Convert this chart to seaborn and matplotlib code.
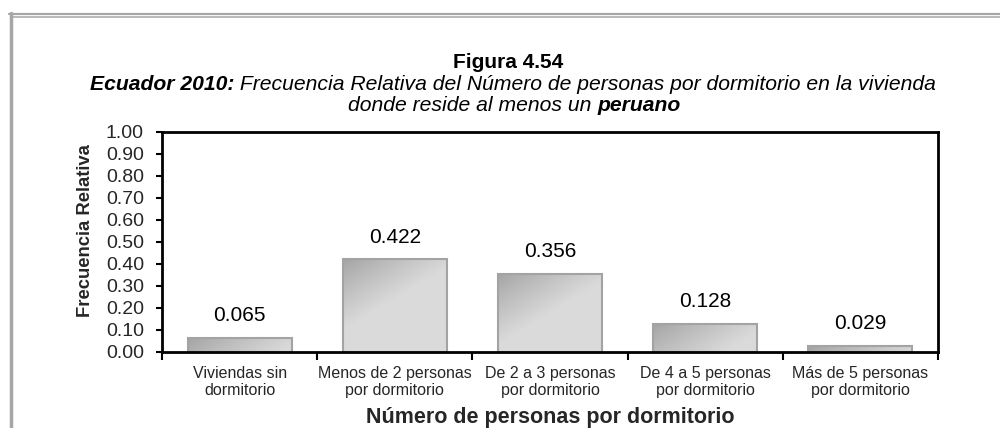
import numpy as np
import matplotlib
matplotlib.use("Agg")
import matplotlib.pyplot as plt
import seaborn as sns
import pandas as pd
from matplotlib.lines import Line2D
from matplotlib.ticker import FormatStrFormatter

categories = [
    "Viviendas sin\ndormitorio",
    "Menos de 2 personas\npor dormitorio",
    "De 2 a 3 personas\npor dormitorio",
    "De 4 a 5 personas\npor dormitorio",
    "Más de 5 personas\npor dormitorio",
]
values = [0.065, 0.422, 0.356, 0.128, 0.029]
y_ticks = [0.0, 0.1, 0.2, 0.3, 0.4, 0.5, 0.6, 0.7, 0.8, 0.9, 1.0]

sns.set_theme(style="white")
plt.rcParams["font.family"] = ["Liberation Sans", "DejaVu Sans"]

W, H = 1000, 428
fig = plt.figure(figsize=(W / 100, H / 100), dpi=100)
fig.patch.set_facecolor("white")
ax = fig.add_axes([162 / W, 1 - 352 / H, (938 - 162) / W, (352 - 132) / H])

df = pd.DataFrame({"categoria": categories, "frecuencia": values})
sns.barplot(data=df, x="categoria", y="frecuencia", ax=ax, color="#d9d9d9",
            width=0.67, edgecolor="#a3a3a3", linewidth=1.5, saturation=1)

ax.set_xlim(-0.5, len(categories) - 0.5)
ax.set_ylim(0, 1.0)
ax.set_yticks(y_ticks)
ax.yaxis.set_major_formatter(FormatStrFormatter("%.2f"))
ax.tick_params(axis="y", which="major", left=True, length=4, width=1.5,
               color="black", labelsize=14, pad=9)
ax.tick_params(axis="x", which="major", bottom=False, length=0,
               labelsize=11.5, pad=10)
ax.set_xticks(np.arange(-0.5, len(categories)), minor=True)
ax.tick_params(axis="x", which="minor", bottom=True, length=6, width=1.5,
               color="black")
for lbl in ax.get_xticklabels():
    lbl.set_linespacing(1.2)

for side in ["left", "right", "top", "bottom"]:
    ax.spines[side].set_visible(True)
    ax.spines[side].set_color("black")
    ax.spines[side].set_linewidth(2)

ax.set_ylabel("Frecuencia Relativa", fontsize=13.3, fontweight="bold")
ax.yaxis.set_label_coords(-0.0876, 0.55)
ax.set_xlabel("Número de personas por dormitorio", fontsize=15.5,
              fontweight="bold")
ax.xaxis.set_label_coords(0.5, -(423 - 352) / 220)
ax.xaxis.label.set_va("baseline")

# Gradient fill inside each bar: darker toward the upper-left corner
fig.canvas.draw()
dark = np.array([0.64, 0.64, 0.64])
light = np.array([0.855, 0.855, 0.855])
for patch in ax.patches:
    x0, y0 = patch.get_x(), patch.get_y()
    w, h = patch.get_width(), patch.get_height()
    p0 = ax.transData.transform((x0, y0))
    p1 = ax.transData.transform((x0 + w, y0 + h))
    pw = max(int(round(p1[0] - p0[0])), 2)
    ph = max(int(round(p1[1] - p0[1])), 2)
    xx, yy = np.meshgrid(np.arange(pw), np.arange(ph))
    t = np.clip((xx * 0.6 + yy) / 70.0, 0, 1) ** 0.9
    img = dark[None, None, :] + (light - dark)[None, None, :] * t[..., None]
    im = ax.imshow(img, extent=(x0, x0 + w, y0, y0 + h), origin="upper",
                   aspect="auto", interpolation="bilinear", zorder=1.5)
    im.set_clip_path(patch)
    patch.set_facecolor("none")
    patch.set_zorder(2)
ax.set_xlim(-0.5, len(categories) - 0.5)
ax.set_ylim(0, 1.0)

ax.bar_label(ax.containers[0], labels=[f"{v:.3f}" for v in values],
             padding=9, fontsize=15, color="black")


def fx(px):
    return px / W


def fy(py):
    return 1 - py / H


def centered_runs(runs, cx, baseline, size):
    """Draw consecutive text runs with different styles, centred on cx."""
    renderer = fig.canvas.get_renderer()
    widths = []
    for text, weight, style in runs:
        t1 = fig.text(0, 0, text + "|", fontsize=size, fontweight=weight,
                      fontstyle=style)
        t2 = fig.text(0, 0, "|", fontsize=size, fontweight=weight,
                      fontstyle=style)
        widths.append(t1.get_window_extent(renderer).width
                      - t2.get_window_extent(renderer).width)
        t1.remove()
        t2.remove()
    x = cx - sum(widths) / 2
    for (text, weight, style), wdt in zip(runs, widths):
        fig.text(fx(x), fy(baseline), text, fontsize=size, fontweight=weight,
                 fontstyle=style, ha="left", va="baseline", color="black")
        x += wdt


centered_runs([("Figura 4.54", "bold", "normal")], 508, 68.5, 15)
centered_runs([("Ecuador 2010:", "bold", "italic"),
               (" Frecuencia Relativa del Número de personas por dormitorio en la vivienda",
                "normal", "italic")], 513, 90, 15.2)
centered_runs([("donde reside al menos un ", "normal", "italic"),
               ("peruano", "bold", "italic")], 514, 111, 15.2)

# Grey double frame around the figure
frame_col = "#a6a6a6"
fig.add_artist(Line2D([fx(9), fx(1000)], [fy(14.2), fy(14.2)],
                      color=frame_col, linewidth=1.6, transform=fig.transFigure))
fig.add_artist(Line2D([fx(12.5), fx(1000)], [fy(16.8), fy(16.8)],
                      color=frame_col, linewidth=1.1, transform=fig.transFigure))
fig.add_artist(Line2D([fx(10.7), fx(10.7)], [fy(13.2), fy(428)],
                      color=frame_col, linewidth=2.5, transform=fig.transFigure))

fig.savefig("out.png", dpi=100, facecolor="white")
